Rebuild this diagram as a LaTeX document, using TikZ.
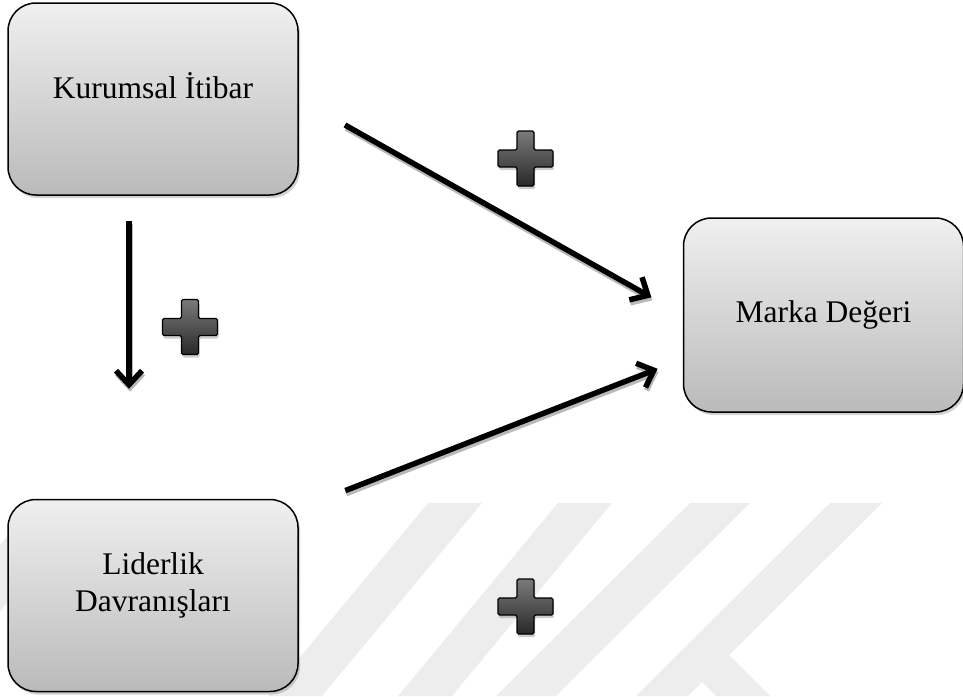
\documentclass[tikz,border=0pt]{standalone}
\usepackage{fontspec}
\setmainfont{Liberation Serif}
\usetikzlibrary{positioning, calc, shadows, arrows.meta}

\begin{document}
\begin{tikzpicture}[x=1pt, y=-1pt, font=\fontsize{31.5}{37}\selectfont, align=center, >={Straight Barb[length=14pt, width=26pt]}, line width=5.5pt]
        % Define colors
        \definecolor{boxtop}{rgb}{0.94, 0.94, 0.94}
        \definecolor{boxbottom}{rgb}{0.73, 0.73, 0.73}
        \definecolor{plustop}{rgb}{0.48, 0.48, 0.48}
        \definecolor{plusbottom}{rgb}{0.16, 0.16, 0.16}
        \definecolor{markgray}{rgb}{0.93, 0.93, 0.93}

        \tikzset{
            box/.style={draw, rounded corners=28pt, line width=1.5pt, top color=boxtop, bottom color=boxbottom,
                drop shadow={shadow xshift=2pt, shadow yshift=-3pt, opacity=0.35},
                minimum width=290pt, minimum height=192pt, inner sep=0pt},
            link/.style={->, preaction={draw=gray!55, transform canvas={xshift=1pt, yshift=-3pt}}},
            plusmark/.pic={
                \draw[line width=1.2pt, top color=plustop, bottom color=plusbottom, rounded corners=1.5pt,
                    drop shadow={shadow xshift=1pt, shadow yshift=-3pt, opacity=0.4}]
                    (-8.5,-27.5) -- (8.5,-27.5) -- (8.5,-8.5) -- (27.5,-8.5) -- (27.5,8.5) -- (8.5,8.5)
                    -- (8.5,27.5) -- (-8.5,27.5) -- (-8.5,8.5) -- (-27.5,8.5) -- (-27.5,-8.5) -- (-8.5,-8.5) -- cycle;
            }
        }

        \useasboundingbox (0,0) rectangle (963,696);

        % Watermark
        \begin{scope}
            \clip (0,0) rectangle (963,696);
            \foreach \a/\b/\s in {35/90/160, 428/482/160, 558/612/160, 690/750/194, 830/882/194} {
                \fill[markgray] (\a,503) -- (\b,503) -- ++(-\s,193) -- ++(\a-\b,0) -- cycle;
            }
            \fill[markgray] (700,680) -- (727,653) -- (770,696) -- (716,696) -- cycle;
        \end{scope}

        % Nodes
        \node[box] (kurumsal) at (153,99) {Kurumsal İtibar\\[-10pt]\mbox{}};
        \node[box, minimum width=280pt, minimum height=194pt, right=384pt of kurumsal, yshift=-216pt] (marka) {Marka Değeri};
        \node[box, below=303pt of kurumsal] (liderlik) {Liderlik\\Davranışları\\[-10pt]\mbox{}};

        % Edges
        \draw[link, shorten <=53pt, shorten >=36pt] (kurumsal.east) -- (marka.west);
        \draw[link, shorten <=25pt, shorten >=110pt] ($(kurumsal.south)+(-24,0)$) -- ($(liderlik.north)+(-24,0)$);
        \draw[link, shorten <=50pt, shorten >=27pt] ($(liderlik.north east)+(0,10)$) -- ($(marka.west)+(0,44)$);

        % Signs
        \foreach \p in {(525.5,158.5), (190,327), (525.5,606.5)} {
            \pic at \p {plusmark};
        }
    \end{tikzpicture}
\end{document}
